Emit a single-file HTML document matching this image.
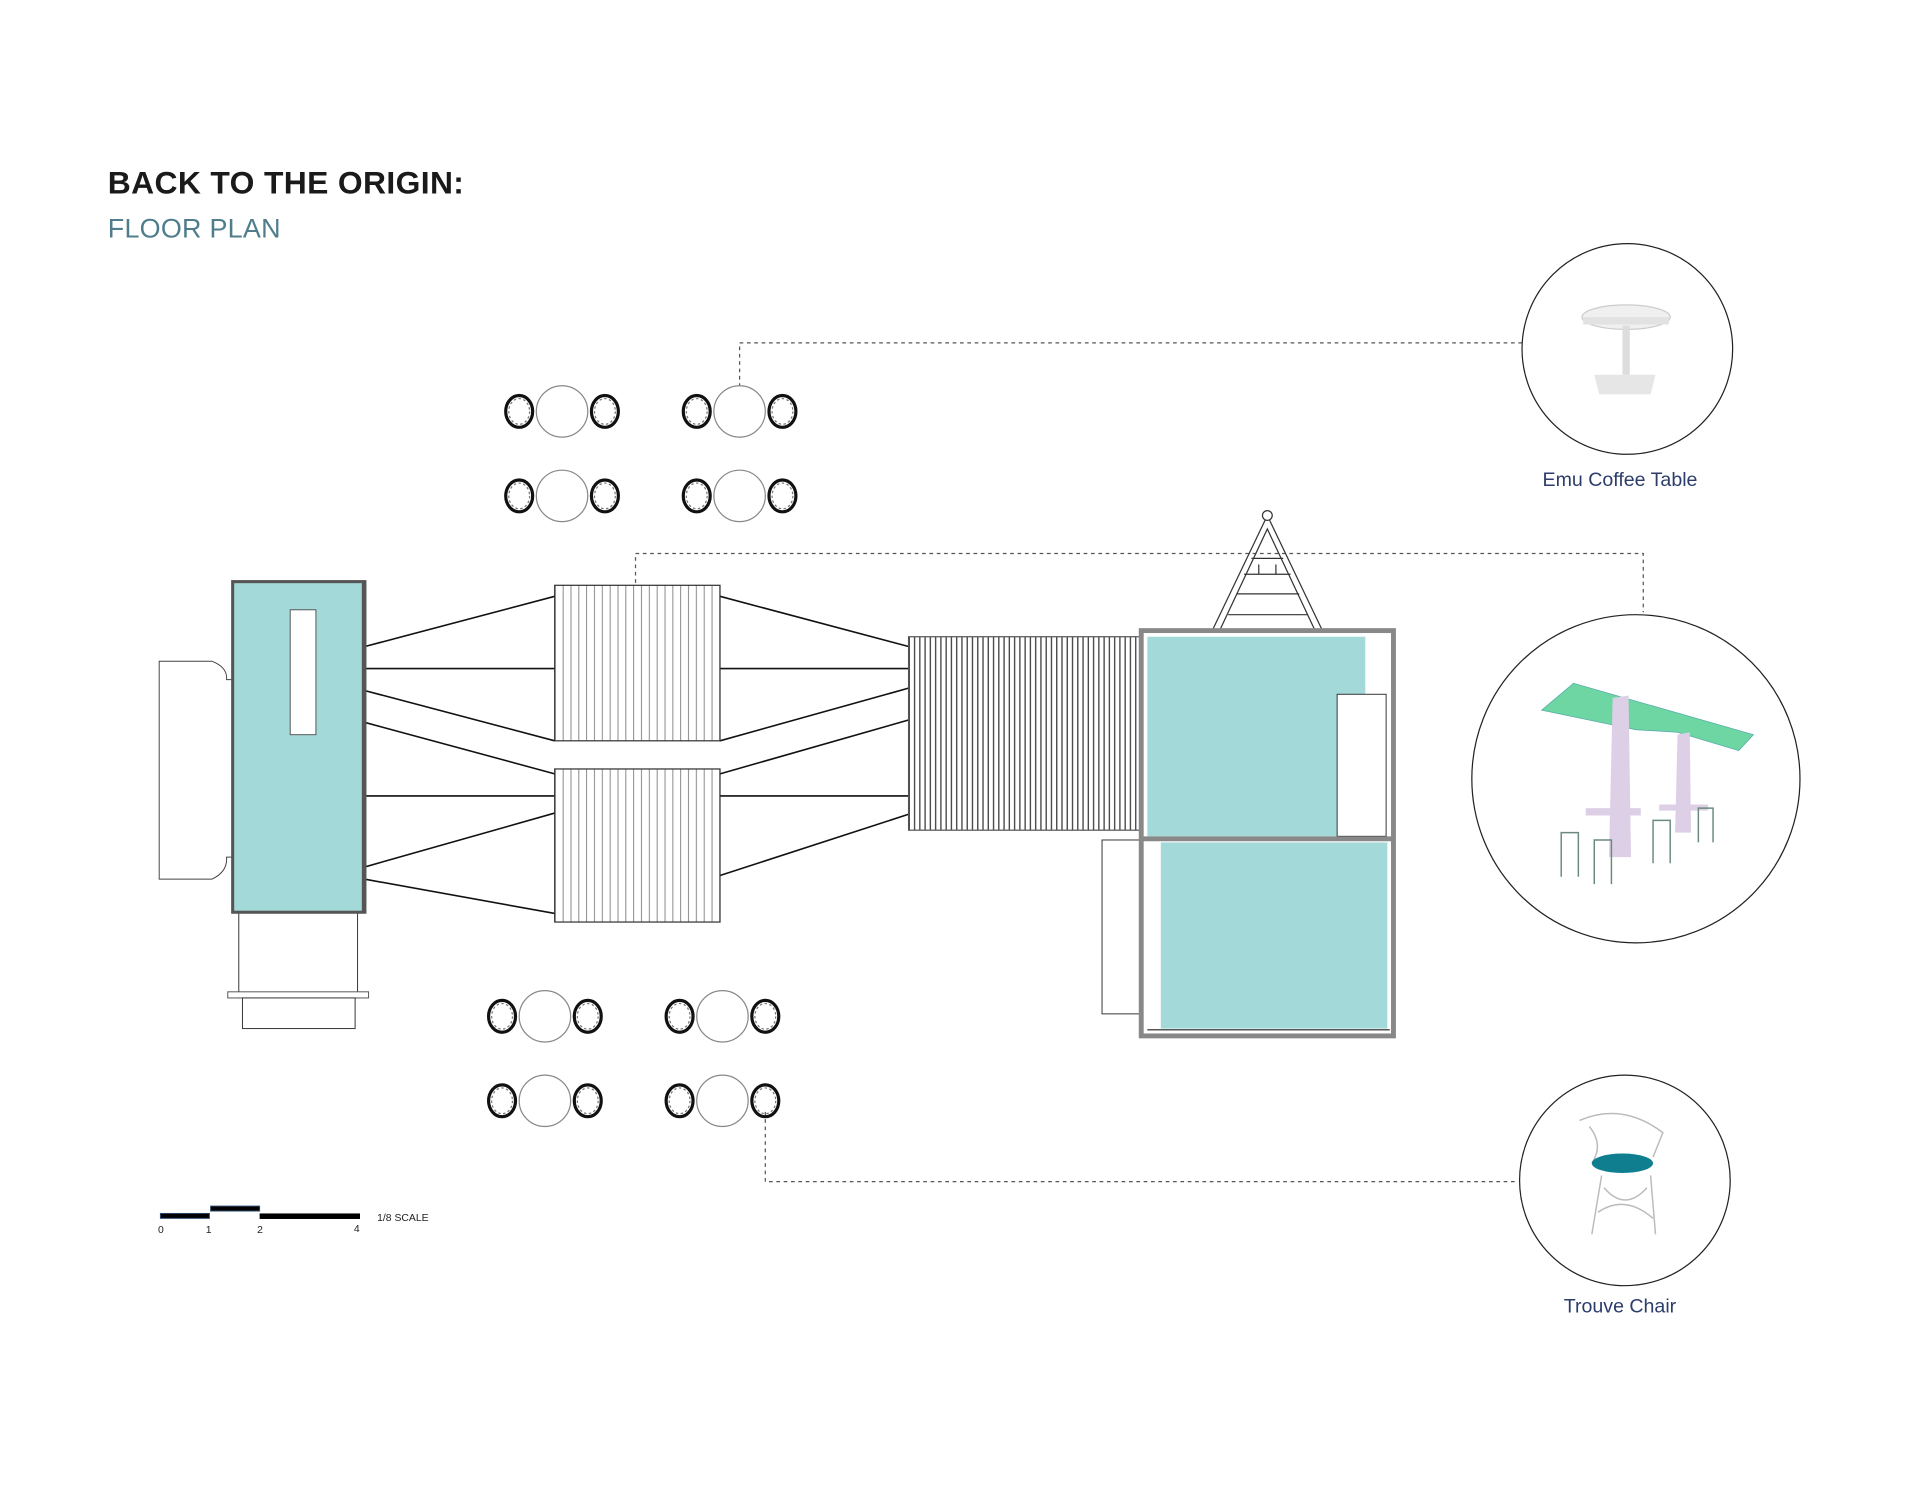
<!DOCTYPE html>
<html><head><meta charset="utf-8"><style>
html,body{margin:0;padding:0;background:#fff;}
svg{display:block;}
text{font-family:"Liberation Sans",sans-serif;}
</style></head><body>
<svg width="1920" height="1493" viewBox="0 0 1568 1219.3" xmlns="http://www.w3.org/2000/svg">
<defs>
<pattern id="p1" x="453" y="0" width="6.4" height="10" patternUnits="userSpaceOnUse"><rect width="6.4" height="10" fill="#fff"/><line x1="0.5" y1="0" x2="0.5" y2="10" stroke="#777" stroke-width="0.7"/></pattern>
<pattern id="p2" x="742" y="0" width="4.3" height="10" patternUnits="userSpaceOnUse"><rect width="4.3" height="10" fill="#fff"/><line x1="0.6" y1="0" x2="0.6" y2="10" stroke="#444" stroke-width="1.1"/></pattern>
<g id="chair"><ellipse cx="0" cy="0" rx="11" ry="13" fill="none" stroke="#111" stroke-width="2.6"/><ellipse cx="0" cy="0" rx="8.5" ry="10.5" fill="none" stroke="#777" stroke-width="1" stroke-dasharray="2 2"/></g>
<g id="set"><circle cx="0" cy="0" r="21" fill="#fff" stroke="#888" stroke-width="1"/><use href="#chair" x="-35"/><use href="#chair" x="35"/></g>
</defs>

<text x="88" y="158" font-size="26" font-weight="bold" fill="#1a1a1a" letter-spacing="0.3">BACK TO THE ORIGIN:</text>
<text x="88" y="194" font-size="22" fill="#4f7d8b" letter-spacing="0.2">FLOOR PLAN</text>

<g fill="none" stroke="#555" stroke-width="1" stroke-dasharray="3 3">
<polyline points="604,322 604,280 1243,280"/>
<polyline points="519,500 519,452 1342,452 1342,500"/>
<polyline points="625,908 625,965 1240,965"/>
</g>

<g stroke="#111" stroke-width="1.3">
<line x1="298" y1="528" x2="453" y2="487"/>
<line x1="298" y1="546" x2="453" y2="546"/>
<line x1="298" y1="564" x2="453" y2="605"/>
<line x1="298" y1="590" x2="453" y2="632"/>
<line x1="298" y1="650" x2="453" y2="650"/>
<line x1="298" y1="708" x2="453" y2="664"/>
<line x1="298" y1="718" x2="453" y2="746"/>
<line x1="588" y1="487" x2="742" y2="528"/>
<line x1="588" y1="546" x2="742" y2="546"/>
<line x1="588" y1="605" x2="742" y2="562"/>
<line x1="588" y1="632" x2="742" y2="588"/>
<line x1="588" y1="650" x2="742" y2="650"/>
<line x1="588" y1="715" x2="742" y2="665"/>
</g>

<rect x="453" y="478" width="135" height="127" fill="url(#p1)" stroke="#333" stroke-width="1"/>
<rect x="453" y="628" width="135" height="125" fill="url(#p1)" stroke="#333" stroke-width="1"/>
<rect x="742" y="520" width="190" height="158" fill="url(#p2)" stroke="#555" stroke-width="1"/>

<path d="M130,540 H173 Q186,545 185,555 H190 V700 H185 Q186,712 173,718 H130 Z" fill="#fff" stroke="#444" stroke-width="0.8"/>
<rect x="195" y="745" width="97" height="70" fill="#fff" stroke="#333" stroke-width="0.8"/>
<rect x="186" y="810" width="115" height="5" fill="#fff" stroke="#555" stroke-width="0.8"/>
<rect x="198" y="815" width="92" height="25" fill="#fff" stroke="#333" stroke-width="0.8"/>
<rect x="190" y="475" width="108" height="270" fill="#a3d9d8" stroke="#555" stroke-width="2.5"/>
<line x1="297" y1="476" x2="297" y2="745" stroke="#555" stroke-width="3"/>
<rect x="237" y="498" width="21" height="102" fill="#fff" stroke="#555" stroke-width="0.8"/>

<g fill="none" stroke="#333" stroke-width="1">
<polygon points="1035,421 990,515 996,515 1035,432 1074,515 1080,515"/>
<line x1="1022" y1="456" x2="1048" y2="456"/>
<line x1="1016" y1="469" x2="1054" y2="469"/>
<line x1="1010" y1="485" x2="1061" y2="485"/>
<line x1="1003" y1="502" x2="1068" y2="502"/>
<line x1="1028" y1="461" x2="1028" y2="469"/><line x1="1042" y1="461" x2="1042" y2="469"/>
</g>
<circle cx="1035" cy="421" r="4" fill="#fff" stroke="#333"/>

<rect x="900" y="686" width="32" height="142" fill="#fff" stroke="#333" stroke-width="0.8"/>
<rect x="932" y="515" width="206" height="331" fill="#fff" stroke="#888" stroke-width="4"/>
<rect x="937" y="520" width="178" height="163" fill="#a3d9d8"/>
<rect x="1092" y="567" width="40" height="116" fill="#fff" stroke="#333" stroke-width="0.8"/>
<line x1="932" y1="685" x2="1138" y2="685" stroke="#888" stroke-width="4"/>
<rect x="948" y="688" width="185" height="152" fill="#a3d9d8"/>
<line x1="937" y1="841" x2="1135" y2="841" stroke="#555" stroke-width="1.2"/>

<use href="#set" x="459" y="336"/>
<use href="#set" x="604" y="336"/>
<use href="#set" x="459" y="405"/>
<use href="#set" x="604" y="405"/>
<use href="#set" x="445" y="830"/>
<use href="#set" x="590" y="830"/>
<use href="#set" x="445" y="899"/>
<use href="#set" x="590" y="899"/>

<rect x="131" y="991" width="40" height="4" fill="#000" stroke="#2b4a6e" stroke-width="0.8"/>
<rect x="172" y="985" width="40" height="4" fill="#000" stroke="#2b4a6e" stroke-width="0.8"/>
<rect x="212" y="991" width="82" height="4.5" fill="#000"/>
<g font-size="8.5" fill="#222">
<text x="129" y="1007">0</text><text x="168" y="1007">1</text><text x="210" y="1007">2</text><text x="289" y="1006">4</text>
<text x="308" y="997">1/8 SCALE</text>
</g>

<circle cx="1329" cy="285" r="86" fill="#fff" stroke="#222" stroke-width="1"/>
<ellipse cx="1328" cy="259" rx="36" ry="10" fill="#f0f0f0" stroke="#ccc"/>
<rect x="1293" y="259" width="70" height="6" fill="#e2e2e2"/>
<rect x="1325" y="266" width="6" height="40" fill="#ddd"/>
<polygon points="1302,306 1352,306 1348,322 1306,322" fill="#e6e6e6"/>
<text x="1323" y="397" font-size="16" fill="#2c3d6b" text-anchor="middle">Emu Coffee Table</text>

<circle cx="1336" cy="636" r="134" fill="#fff" stroke="#222" stroke-width="1"/>
<polygon points="1259,580 1285,558 1432,600 1420,613 1370,598 1336,596" fill="#6ed6a3" stroke="#5aa" stroke-width="0.6"/>
<polygon points="1317,570 1330,568 1332,700 1314,700" fill="#ddd0e6"/>
<polygon points="1370,600 1380,598 1381,680 1368,680" fill="#ddd0e6"/>
<rect x="1295" y="660" width="45" height="6" fill="#ddd0e6"/>
<rect x="1355" y="657" width="40" height="5" fill="#ddd0e6"/>
<g fill="none" stroke="#6a8a80" stroke-width="1.2">
<path d="M1275,716 V680 h14 v36 M1302,722 V686 h14 v36 M1350,705 V670 h14 v35 M1387,688 V660 h12 v28"/>
</g>
<text x="1323" y="1072" font-size="16" fill="#2c3d6b" text-anchor="middle">Trouve Chair</text>

<circle cx="1327" cy="964" r="86" fill="#fff" stroke="#222" stroke-width="1"/>
<g fill="none" stroke="#bbb" stroke-width="1.2">
<path d="M1290,915 Q1325,900 1358,925 L1350,945 M1298,920 Q1310,935 1300,950"/>
<path d="M1308,960 L1300,1008 M1348,960 L1352,1008 M1310,970 Q1327,990 1345,970 M1305,990 Q1327,975 1350,995"/>
</g>
<ellipse cx="1325" cy="950" rx="25" ry="8" fill="#0f7f8f"/>
</svg>
</body></html>
